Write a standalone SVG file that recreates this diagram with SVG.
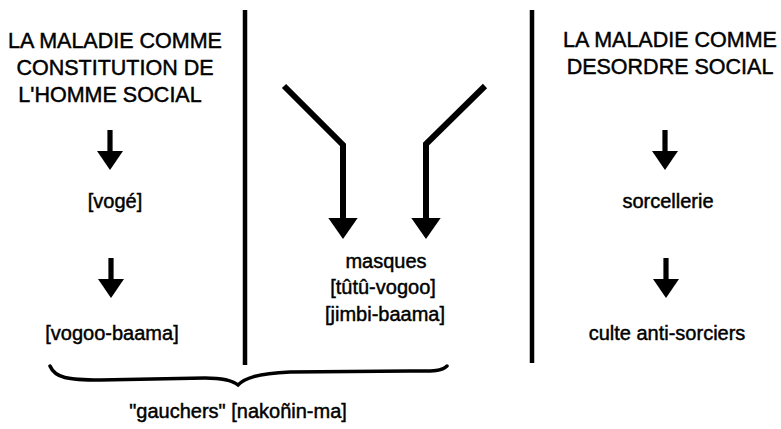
<svg xmlns="http://www.w3.org/2000/svg" xmlns:xlink="http://www.w3.org/1999/xlink" width="781" height="429" viewBox="0 0 781 429">
  <style>
    text { font-family: "Liberation Sans", Arial, sans-serif; fill: #000; stroke: #000; stroke-width: 0.45; text-anchor: middle; }
    .head { font-size: 21.5px; }
    .term { font-size: 20px; }
    .rule { stroke: #000; stroke-width: 4.5; fill: none; }
    .bent { stroke: #000; stroke-width: 6; fill: none; stroke-linejoin: miter; }
    .brace { stroke: #000; stroke-width: 3.5; fill: none; stroke-linecap: round; }
  </style>
  <defs>
    <!-- short downward arrow, origin at its tip -->
    <g id="down-arrow">
      <rect x="-2.6" y="-40" width="5.2" height="24" fill="#000"/>
      <polygon points="-13,-19 13,-19 0,0" fill="#000"/>
    </g>
    <!-- head for the bent arrows, drawn along +x so it follows the line direction -->
    <marker id="big-head" markerUnits="userSpaceOnUse" markerWidth="22" markerHeight="30" refX="1" refY="14" orient="auto" viewBox="0 0 21 28" overflow="visible">
      <polygon points="0,0 0,28 20,14" fill="#000"/>
    </marker>
  </defs>

  <!-- column dividers and the grouping brace -->
  <g id="layout">
    <line class="rule" x1="245" y1="10" x2="245" y2="365"/>
    <line class="rule" x1="532" y1="10" x2="532" y2="363"/>
    <path class="brace" d="M50,366 C55,378 68,380 100,380 L205,378 C222,378 232,380 238,385 C245,378 256,374 290,372 L410,371 C430,371 441,372 447,366"/>
  </g>

  <!-- left column -->
  <g id="node-constitution">
    <text class="head" x="115" y="48">LA MALADIE COMME</text>
    <text class="head" x="115" y="75">CONSTITUTION DE</text>
    <text class="head" x="110" y="102">L'HOMME SOCIAL</text>
  </g>
  <g id="node-voge">
    <text class="term" x="115" y="208">[vogé]</text>
  </g>
  <g id="node-vogoo-baama">
    <text class="term" x="112" y="340">[vogoo-baama]</text>
  </g>

  <!-- middle column -->
  <g id="node-masques">
    <text class="term" x="386" y="268">masques</text>
    <text class="term" x="383" y="294">[tûtû-vogoo]</text>
    <text class="term" x="385" y="321">[jimbi-baama]</text>
  </g>

  <!-- right column -->
  <g id="node-desordre">
    <text class="head" x="670" y="47">LA MALADIE COMME</text>
    <text class="head" x="670" y="74">DESORDRE SOCIAL</text>
  </g>
  <g id="node-sorcellerie">
    <text class="term" x="668" y="208">sorcellerie</text>
  </g>
  <g id="node-culte">
    <text class="term" x="667" y="340">culte anti-sorciers</text>
  </g>

  <!-- bottom label under the brace -->
  <g id="node-gauchers">
    <text class="term" x="238" y="418">"gauchers" [nakoñin-ma]</text>
  </g>

  <g id="connectors">
    <use xlink:href="#down-arrow" x="110" y="170"/>
    <use xlink:href="#down-arrow" x="111" y="298"/>
    <use xlink:href="#down-arrow" x="665" y="170"/>
    <use xlink:href="#down-arrow" x="666" y="298"/>
    <polyline class="bent" points="284,86 343,145 343,219" marker-end="url(#big-head)"/>
    <polyline class="bent" points="485,86 426,144 426,219" marker-end="url(#big-head)"/>
  </g>
</svg>
